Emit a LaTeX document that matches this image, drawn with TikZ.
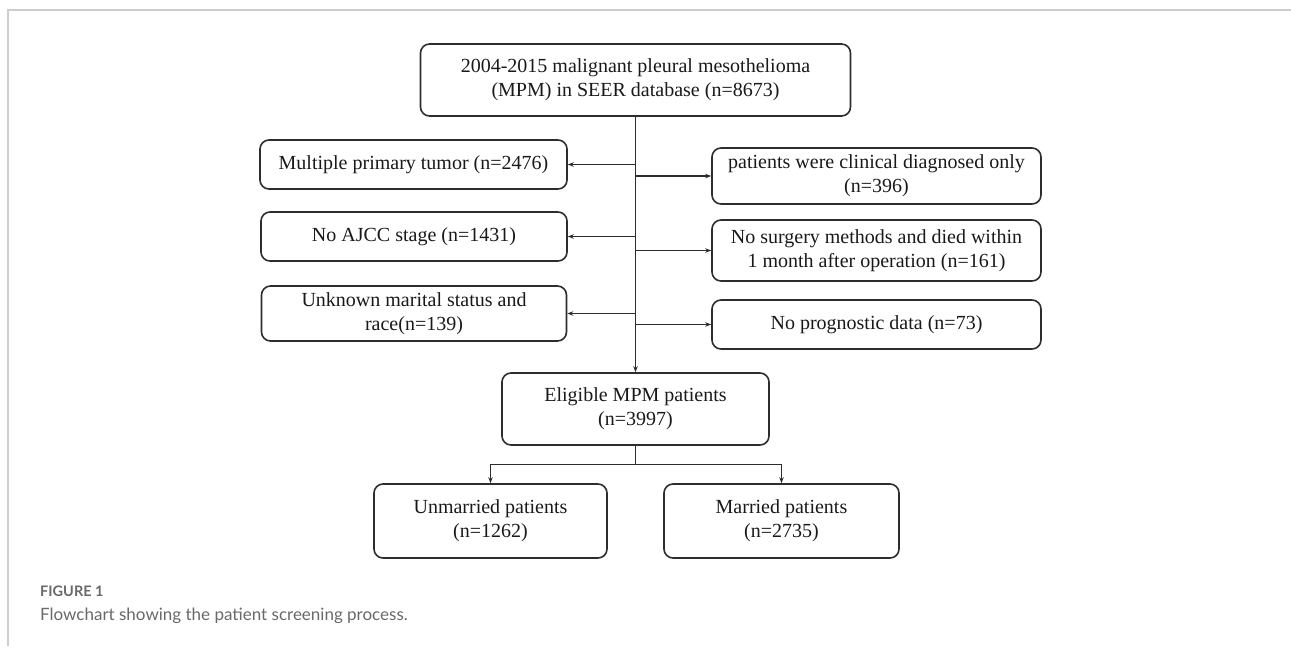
\documentclass[tikz,border=0pt]{standalone}
\usepackage{fontspec}
\setmainfont{Liberation Serif}
\newfontfamily\capfont{Lato}
\usetikzlibrary{arrows.meta}
\definecolor{boxline}{RGB}{45,45,45}
\definecolor{frameline}{RGB}{205,205,205}
\definecolor{capgray}{RGB}{105,105,105}
\tikzset{
  box/.style={draw=boxline, line width=1.6pt, rounded corners=9pt, align=center,
    inner sep=0pt, text=black!90, font=\fontsize{20}{24}\selectfont},
  conn/.style={draw=boxline, line width=1.2pt},
  trunk/.style={draw=boxline, line width=1.8pt},
  arr/.style={conn, -{Stealth[length=6pt,width=4.5pt]}},
}
\begin{document}
\begin{tikzpicture}[x=1pt,y=-1pt]
\useasboundingbox (0,0) rectangle (1291,646);
\draw[frameline, line width=1.2pt] (1291,10) -- (8,10) -- (8,646);

\node[box, minimum width=430pt, minimum height=72pt] (top) at (635.5,80)
  {2004-2015 malignant pleural mesothelioma\\(MPM) in SEER database (n=8673)};
\node[box, minimum width=307pt, minimum height=49pt] (l1) at (413.5,164.5)
  {Multiple primary tumor (n=2476)};
\node[box, minimum width=306pt, minimum height=49pt] (l2) at (414,236.5)
  {No AJCC stage (n=1431)};
\node[box, minimum width=305pt, minimum height=55pt] (l3) at (414,313.5)
  {Unknown marital status and\\race(n=139)};
\node[box, minimum width=329pt, minimum height=56pt] (r1) at (876.5,176)
  {patients were clinical diagnosed only\\(n=396)};
\node[box, minimum width=329pt, minimum height=61pt] (r2) at (876.5,250.5)
  {No surgery methods and died within\\1 month after operation (n=161)};
\node[box, minimum width=329pt, minimum height=49pt] (r3) at (876.5,324.5)
  {No prognostic data (n=73)};
\node[box, minimum width=267pt, minimum height=72pt] (elig) at (635.5,409)
  {Eligible MPM patients\\(n=3997)};
\node[box, minimum width=233pt, minimum height=74pt] (unm) at (490.5,521)
  {Unmarried patients\\(n=1262)};
\node[box, minimum width=235pt, minimum height=74pt] (mar) at (781.5,521)
  {Married patients\\(n=2735)};

\draw[trunk, -{Stealth[length=6pt,width=4.5pt]}] (top.south) -- (elig.north);
\draw[arr] (top.south |- l1.east) -- (l1.east);
\draw[arr] (top.south |- l2.east) -- (l2.east);
\draw[arr] (top.south |- l3.east) -- (l3.east);
\draw[arr] (top.south |- r1.west) -- (r1.west);
\draw[arr] (top.south |- r2.west) -- (r2.west);
\draw[arr] (top.south |- r3.west) -- (r3.west);
\draw[trunk] (elig.south) -- ++(0,19) coordinate (sp);
\draw[arr] (sp) -| (unm.north);
\draw[arr] (sp) -| (mar.north);

\node[anchor=base west, inner sep=0pt, text=capgray, font=\capfont\bfseries\fontsize{14.5}{16}\selectfont] (fig) at (40,596) {FIGURE 1};
\node[anchor=base west, inner sep=0pt, text=capgray, font=\capfont\fontsize{17}{20}\selectfont] (cap) at (40,620) {Flowchart showing the patient screening process.};
\end{tikzpicture}
\end{document}
